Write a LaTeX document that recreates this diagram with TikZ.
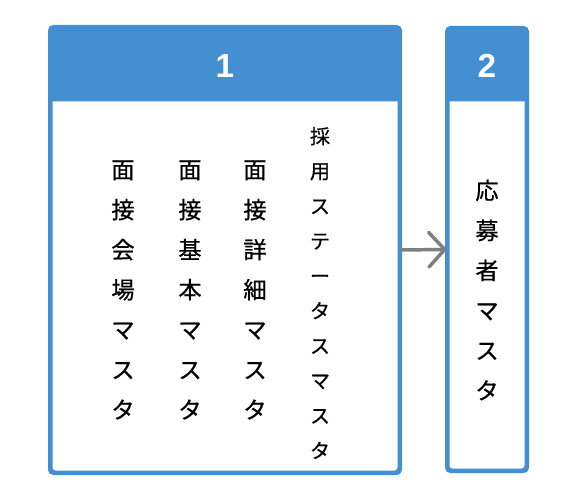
\documentclass[tikz,border=0pt]{standalone}
\usepackage{fontspec}
\newfontfamily\jpfont[FakeBold=0.6]{Noto Sans CJK JP}
\newfontfamily\numfont{Liberation Sans}
\definecolor{tblblue}{HTML}{448FD2}
\definecolor{arrgray}{HTML}{7F7F7F}
\usetikzlibrary{arrows.meta,positioning,calc}

\begin{document}
\begin{tikzpicture}[
  x=0.75pt, y=0.75pt,
  tbl/.style={draw=tblblue, line width=2.25pt, rounded corners=3pt,
    fill=white, minimum height=#1},
  hdr/.style={font=\numfont\bfseries\fontsize{25}{25}\selectfont, text=white},
  col/.style={font=\jpfont\fontsize{17.5}{30}\selectfont, align=center, inner sep=0pt},
  colsm/.style={font=\jpfont\fontsize{15}{26.2}\selectfont, align=center, inner sep=0pt},
  edge/.style={-{Straight Barb[length=12pt,width=26pt,round]}, line width=2.6pt,
    arrgray, line cap=round}
]
  \useasboundingbox (0,0) rectangle (577,500);

  % Tables
  \node[tbl=333pt, minimum width=261pt] (t1) at (225,250) {};
  \node[tbl=330.75pt, minimum width=58.5pt] (t2) at (487,250.5) {};

  % Header bars
  \fill[tblblue] ([yshift=-56.25pt]t1.north west) [rounded corners=3pt] -- (t1.north west)
    -- (t1.north east) [sharp corners] -- ([yshift=-56.25pt]t1.north east) -- cycle;
  \fill[tblblue] ([yshift=-55.5pt]t2.north west) [rounded corners=3pt] -- (t2.north west)
    -- (t2.north east) [sharp corners] -- ([yshift=-55.5pt]t2.north east) -- cycle;
  \draw[tblblue, line width=2.25pt, rounded corners=3pt] (t1.north west) rectangle (t1.south east);
  \draw[tblblue, line width=2.25pt, rounded corners=3pt] (t2.north west) rectangle (t2.south east);
  \node[hdr] (h1) at (225,434) {1};
  \node[hdr] (h2) at (487,434) {2};

  % Column names
  \node[col] (c1) at (123,210) {面\\接\\会\\場\\マ\\ス\\タ};
  \node[col] (c2) at (190,210) {面\\接\\基\\本\\マ\\ス\\タ};
  \node[col] (c3) at (255,210) {面\\接\\詳\\細\\マ\\ス\\タ};
  \node[colsm] (c4) at (320,207) {採\\用\\ス\\テ\\ー\\タ\\ス\\マ\\ス\\タ};
  \node[col] (c5) at (487,210) {応\\募\\者\\マ\\ス\\タ};

  % Relation
  \draw[edge] (t1.east) -- (t2.west);
\end{tikzpicture}
\end{document}
